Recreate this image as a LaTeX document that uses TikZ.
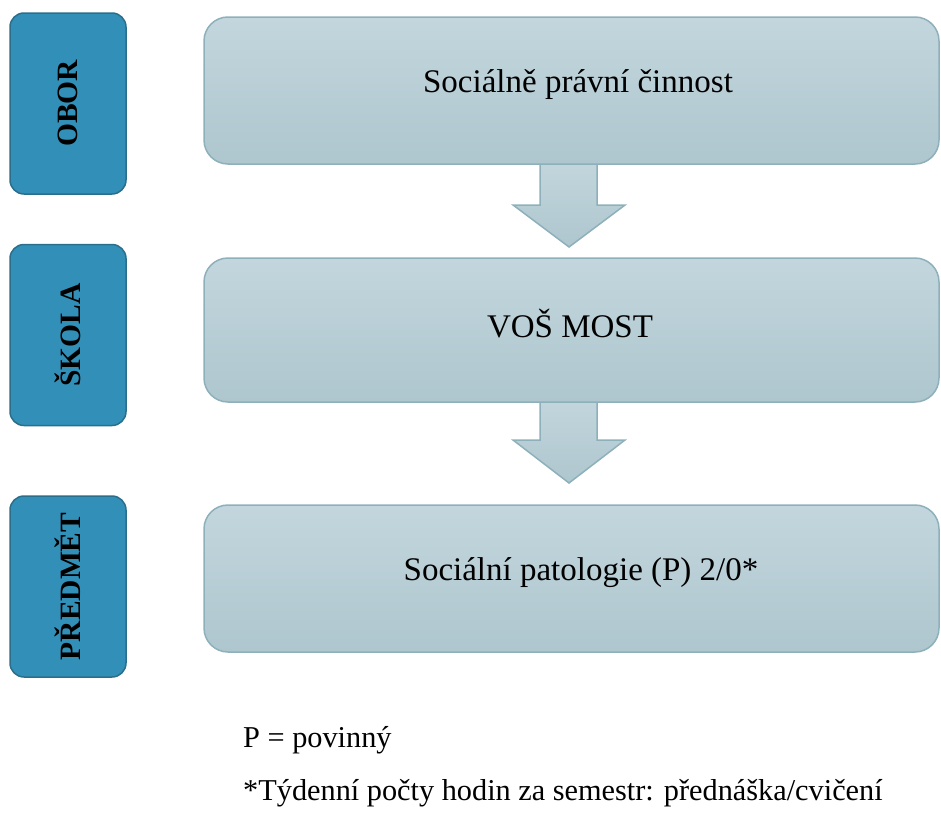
\documentclass[tikz,border=0pt]{standalone}
\usepackage{fontspec}
\setmainfont{Liberation Serif}
\definecolor{labfill}{HTML}{3290B8}
\definecolor{labdraw}{HTML}{2A6E8C}
\definecolor{boxtop}{HTML}{C3D6DD}
\definecolor{boxbot}{HTML}{AEC6CE}
\definecolor{boxdraw}{HTML}{8DB0BB}
\begin{document}
\begin{tikzpicture}[x=1pt,y=-1pt,
  lab/.style={draw=labdraw, line width=1.5pt, fill=labfill, rounded corners=14pt,
    minimum width=116pt, minimum height=181pt, inner sep=0pt},
  labtext/.style={rotate=90, font=\bfseries\fontsize{29.5}{29.5}\selectfont, inner sep=0pt},
  mainbox/.style={draw=boxdraw, line width=1.5pt, top color=boxtop, bottom color=boxbot,
    rounded corners=24pt, minimum width=735pt, inner sep=0pt},
  maintext/.style={font=\fontsize{33}{33}\selectfont, anchor=base, inner sep=0pt},
  arr/.style={draw=boxdraw, line width=1.5pt, top color=boxtop, bottom color=boxbot, line join=miter},
  note/.style={font=\fontsize{30.3}{30.3}\selectfont, anchor=base west, inner sep=0pt}]
\useasboundingbox (0,0) rectangle (941,814);

% left labels
\node[lab] (l1) at (68,103.5) {};
\node[labtext] (t1) at (l1.center) {OBOR};
\node[lab] (l2) at (68,335) {};
\node[labtext] (t2) at (l2.center) {ŠKOLA};
\node[lab] (l3) at (68,586.5) {};
\node[labtext] (t3) at (l3.center) {PŘEDMĚT};

% arrows (drawn before boxes so the shaft tucks under the box edge)
\path[arr] (540,160) -- (597,160) -- (597,205) -- (625,205) -- (569,247) -- (513,205) -- (540,205) -- cycle;
\path[arr] (540,398) -- (597,398) -- (597,440) -- (625,440) -- (569,483) -- (513,440) -- (540,440) -- cycle;

% main boxes
\node[mainbox, minimum height=147pt] (b1) at (571.5,90.5) {};
\node[maintext] (m1) at (578,92) {Sociálně právní činnost};
\node[mainbox, minimum height=144pt] (b2) at (571.5,330) {};
\node[maintext] (m2) at (570,337) {VOŠ MOST};
\node[mainbox, minimum height=147pt] (b3) at (571.5,578.5) {};
\node[maintext] (m3) at (581,580) {Sociální patologie (P) 2/0*};

% notes
\node[note] (n1) at (243,747) {P = povinný};
\node[note] (n2) at (243,800) {*Týdenní počty hodin za semestr: přednáška/cvičení};
\end{tikzpicture}
\end{document}
